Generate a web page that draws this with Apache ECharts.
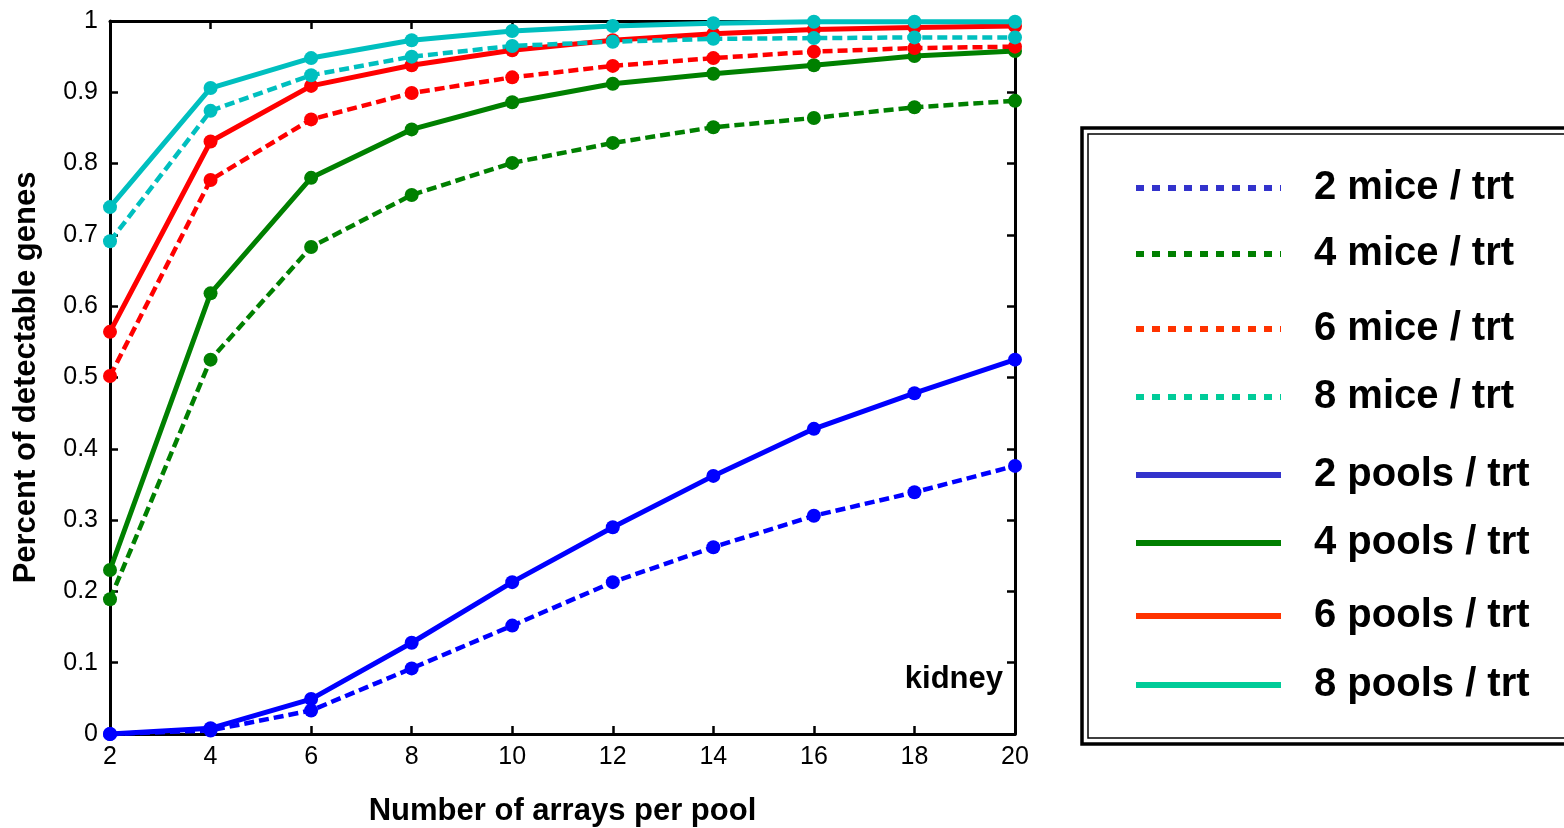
<!DOCTYPE html>
<html>
<head>
<meta charset="utf-8">
<script src="https://cdn.jsdelivr.net/npm/echarts@6/dist/echarts.min.js"></script>
<style>
  html, body { margin: 0; padding: 0; background: #fff; }
  #chart { width: 1564px; height: 828px; }
</style>
</head>
<body>
<div id="chart"></div>
<script>
// arrays per pool (x axis)
const arraysPerPool = [2, 4, 6, 8, 10, 12, 14, 16, 18, 20];

// percent of detectable genes
const mice2  = [0, 0.005, 0.033, 0.092, 0.152, 0.213, 0.262, 0.306, 0.339, 0.376];
const mice4  = [0.189, 0.525, 0.683, 0.756, 0.801, 0.829, 0.851, 0.864, 0.879, 0.888];
const mice6  = [0.502, 0.777, 0.862, 0.899, 0.921, 0.937, 0.948, 0.957, 0.962, 0.964];
const mice8  = [0.691, 0.874, 0.924, 0.950, 0.965, 0.971, 0.975, 0.976, 0.977, 0.977];
const pools2 = [0, 0.008, 0.049, 0.128, 0.213, 0.290, 0.362, 0.428, 0.478, 0.525];
const pools4 = [0.230, 0.618, 0.780, 0.848, 0.886, 0.912, 0.926, 0.938, 0.951, 0.958];
const pools6 = [0.564, 0.831, 0.909, 0.938, 0.959, 0.973, 0.982, 0.988, 0.991, 0.993];
const pools8 = [0.739, 0.906, 0.948, 0.973, 0.986, 0.993, 0.997, 0.999, 0.999, 0.999];

const yTicks = [0, 0.1, 0.2, 0.3, 0.4, 0.5, 0.6, 0.7, 0.8, 0.9, 1];

// name, values, plot colour, legend colour, dashed?, legend row centre
const lines = [
  ['2 mice / trt',  mice2,  '#0000FF', '#3333CC', true,  188],
  ['4 mice / trt',  mice4,  '#008000', '#007F00', true,  254],
  ['6 mice / trt',  mice6,  '#FF0000', '#FF3300', true,  329],
  ['8 mice / trt',  mice8,  '#00BFBF', '#00CC99', true,  397],
  ['2 pools / trt', pools2, '#0000FF', '#3333CC', false, 475],
  ['4 pools / trt', pools4, '#008000', '#007F00', false, 543],
  ['6 pools / trt', pools6, '#FF0000', '#FF3300', false, 616],
  ['8 pools / trt', pools8, '#00BFBF', '#00CC99', false, 685]
];

const FONT = 'Liberation Sans, Arial, sans-serif';
const chart = echarts.init(document.getElementById('chart'));

// draw order: dashed under solid for each colour
const drawOrder = [0, 4, 1, 5, 2, 6, 3, 7];
const series = drawOrder.map(i => {
  const l = lines[i];
  return {
    name: l[0],
    type: 'line',
    data: arraysPerPool.map((x, k) => [x, l[1][k]]),
    symbol: 'circle',
    symbolSize: 14,
    clip: false,
    color: l[2],
    lineStyle: { width: l[4] ? 4.5 : 5, type: l[4] ? [10, 5] : 'solid', color: l[2] },
    itemStyle: { color: l[2] }
  };
});

// one legend per row so the uneven spacing can be kept
const legends = lines.map(l => ({
  data: [{
    name: l[0],
    itemStyle: { opacity: 0 },
    lineStyle: { color: l[3], width: 6, type: l[4] ? [8, 8] : 'solid' }
  }],
  left: 1133,
  top: l[5] - 24,
  padding: 0,
  itemWidth: 145,
  itemHeight: 20,
  selectedMode: false,
  textStyle: {
    fontFamily: FONT, fontSize: 40, fontWeight: 'bold', color: '#000',
    lineHeight: 48, padding: [0, 0, 0, 28]
  }
}));

const tickStyle = { inside: true, length: 8, lineStyle: { color: '#000', width: 2.5 } };

const option = {
  animation: false,
  grid: { left: 110, right: 549, top: 21, bottom: 94, show: false, outerBoundsMode: 'none', containLabel: false },
  xAxis: [{
    type: 'value', position: 'bottom', min: 2, max: 20, interval: 2,
    name: 'Number of arrays per pool', nameLocation: 'middle', nameGap: 62,
    nameTextStyle: { fontFamily: FONT, fontSize: 31, fontWeight: 'bold', color: '#000' },
    axisLine: { onZero: false, lineStyle: { color: '#000', width: 3 } },
    axisTick: tickStyle,
    axisLabel: { fontFamily: FONT, fontSize: 25, color: '#000', margin: 11 },
    splitLine: { show: false }
  }, {
    type: 'value', position: 'top', min: 2, max: 20, interval: 2,
    axisLine: { onZero: false, lineStyle: { color: '#000', width: 3 } },
    axisTick: tickStyle,
    axisLabel: { show: false },
    splitLine: { show: false }
  }],
  yAxis: [{
    type: 'value', position: 'left', min: 0, max: 1, interval: 0.1,
    name: 'Percent of detectable genes', nameLocation: 'middle', nameGap: 68,
    nameTextStyle: { fontFamily: FONT, fontSize: 31, fontWeight: 'bold', color: '#000' },
    axisLine: { show: true, onZero: false, lineStyle: { color: '#000', width: 3 } },
    axisTick: tickStyle,
    axisLabel: {
      fontFamily: FONT, fontSize: 25, color: '#000', margin: 12,
      formatter: v => (yTicks.indexOf(Math.round(v * 10) / 10) >= 0 ? String(Math.round(v * 10) / 10) : '')
    },
    splitLine: { show: false }
  }, {
    type: 'value', position: 'right', min: 0, max: 1, interval: 0.1,
    axisLine: { show: true, onZero: false, lineStyle: { color: '#000', width: 3 } },
    axisTick: tickStyle,
    axisLabel: { show: false },
    splitLine: { show: false }
  }],
  legend: legends,
  graphic: [
    {
      type: 'text', right: 561, top: 664,
      style: { text: 'kidney', font: 'bold 31px ' + FONT, fill: '#000' }
    },
    {
      type: 'rect', shape: { x: 1082, y: 128, width: 520, height: 616 },
      style: { fill: 'none', stroke: '#000', lineWidth: 3.5 }
    },
    {
      type: 'rect', shape: { x: 1088, y: 134, width: 520, height: 604 },
      style: { fill: 'none', stroke: '#000', lineWidth: 1.5 }
    }
  ],
  series: series
};

chart.setOption(option);
</script>
</body>
</html>
